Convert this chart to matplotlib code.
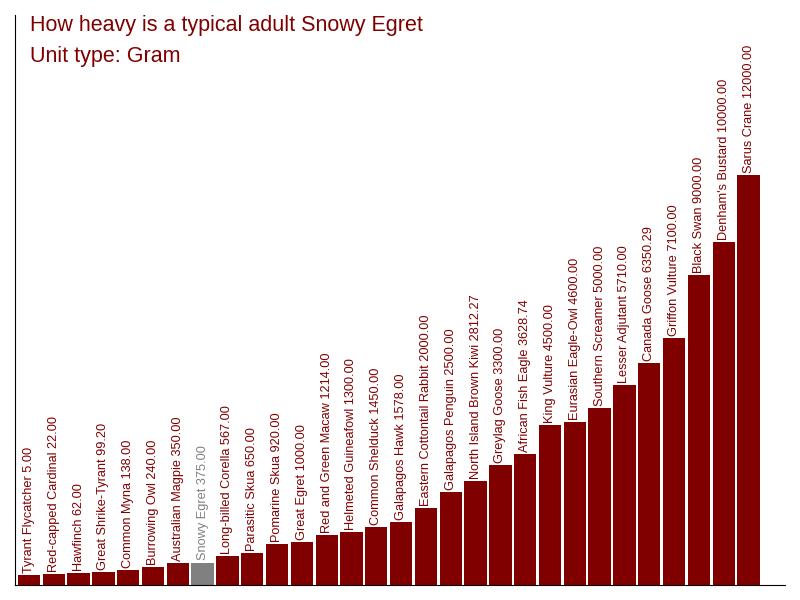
import matplotlib
matplotlib.use('Agg')
import matplotlib.pyplot as plt

birds = ["Tyrant Flycatcher", "Red-capped Cardinal", "Hawfinch", "Great Shrike-Tyrant",
         "Common Myna", "Burrowing Owl", "Australian Magpie", "Snowy Egret",
         "Long-billed Corella", "Parasitic Skua", "Pomarine Skua", "Great Egret",
         "Red and Green Macaw", "Helmeted Guineafowl", "Common Shelduck", "Galapagos Hawk",
         "Eastern Cottontail Rabbit", "Galapagos Penguin", "North Island Brown Kiwi",
         "Greylag Goose", "African Fish Eagle", "King Vulture", "Eurasian Eagle-Owl",
         "Southern Screamer", "Lesser Adjutant", "Canada Goose", "Griffon Vulture",
         "Black Swan", "Denham's Bustard", "Sarus Crane"]
weights = [5.00, 22.00, 62.00, 99.20, 138.00, 240.00, 350.00, 375.00,
           567.00, 650.00, 920.00, 1000.00, 1214.00, 1300.00, 1450.00, 1578.00,
           2000.00, 2500.00, 2812.27, 3300.00, 3628.74, 4500.00, 4600.00,
           5000.00, 5710.00, 6350.29, 7100.00, 9000.00, 10000.00, 12000.00]
highlight = "Snowy Egret"

dark = '#800000'
grey = '#808080'
floor = -300  # axis starts below zero so small bars still show

plt.rcParams['font.family'] = ['Liberation Sans', 'DejaVu Sans']

fig = plt.figure(figsize=(8, 6), dpi=100)
ax = fig.add_axes([15 / 800, 15 / 600, 770 / 800, 570 / 600])

colors = [grey if b == highlight else dark for b in birds]
x = range(len(birds))
ax.bar(x, [w - floor for w in weights], width=0.9, bottom=floor, color=colors)
for i, (b, w) in enumerate(zip(birds, weights)):
    ax.text(i, w + 60, f"{b} {w:.2f}", rotation=90, ha='center', va='bottom',
            fontsize=9.2, color=colors[i])

ax.set_xlim(-0.56, 30.47)
ax.set_ylim(floor, 16800)
ax.set_xticks([])
ax.set_yticks([])
for s in ['top', 'right']:
    ax.spines[s].set_visible(False)

fig.text(30 / 800, 1 - 15 / 600, "How heavy is a typical adult Snowy Egret",
         fontsize=15.5, color=dark, ha='left', va='top')
fig.text(30 / 800, 1 - 46 / 600, "Unit type: Gram",
         fontsize=15.5, color=dark, ha='left', va='top')

fig.savefig('out.png', dpi=100)
